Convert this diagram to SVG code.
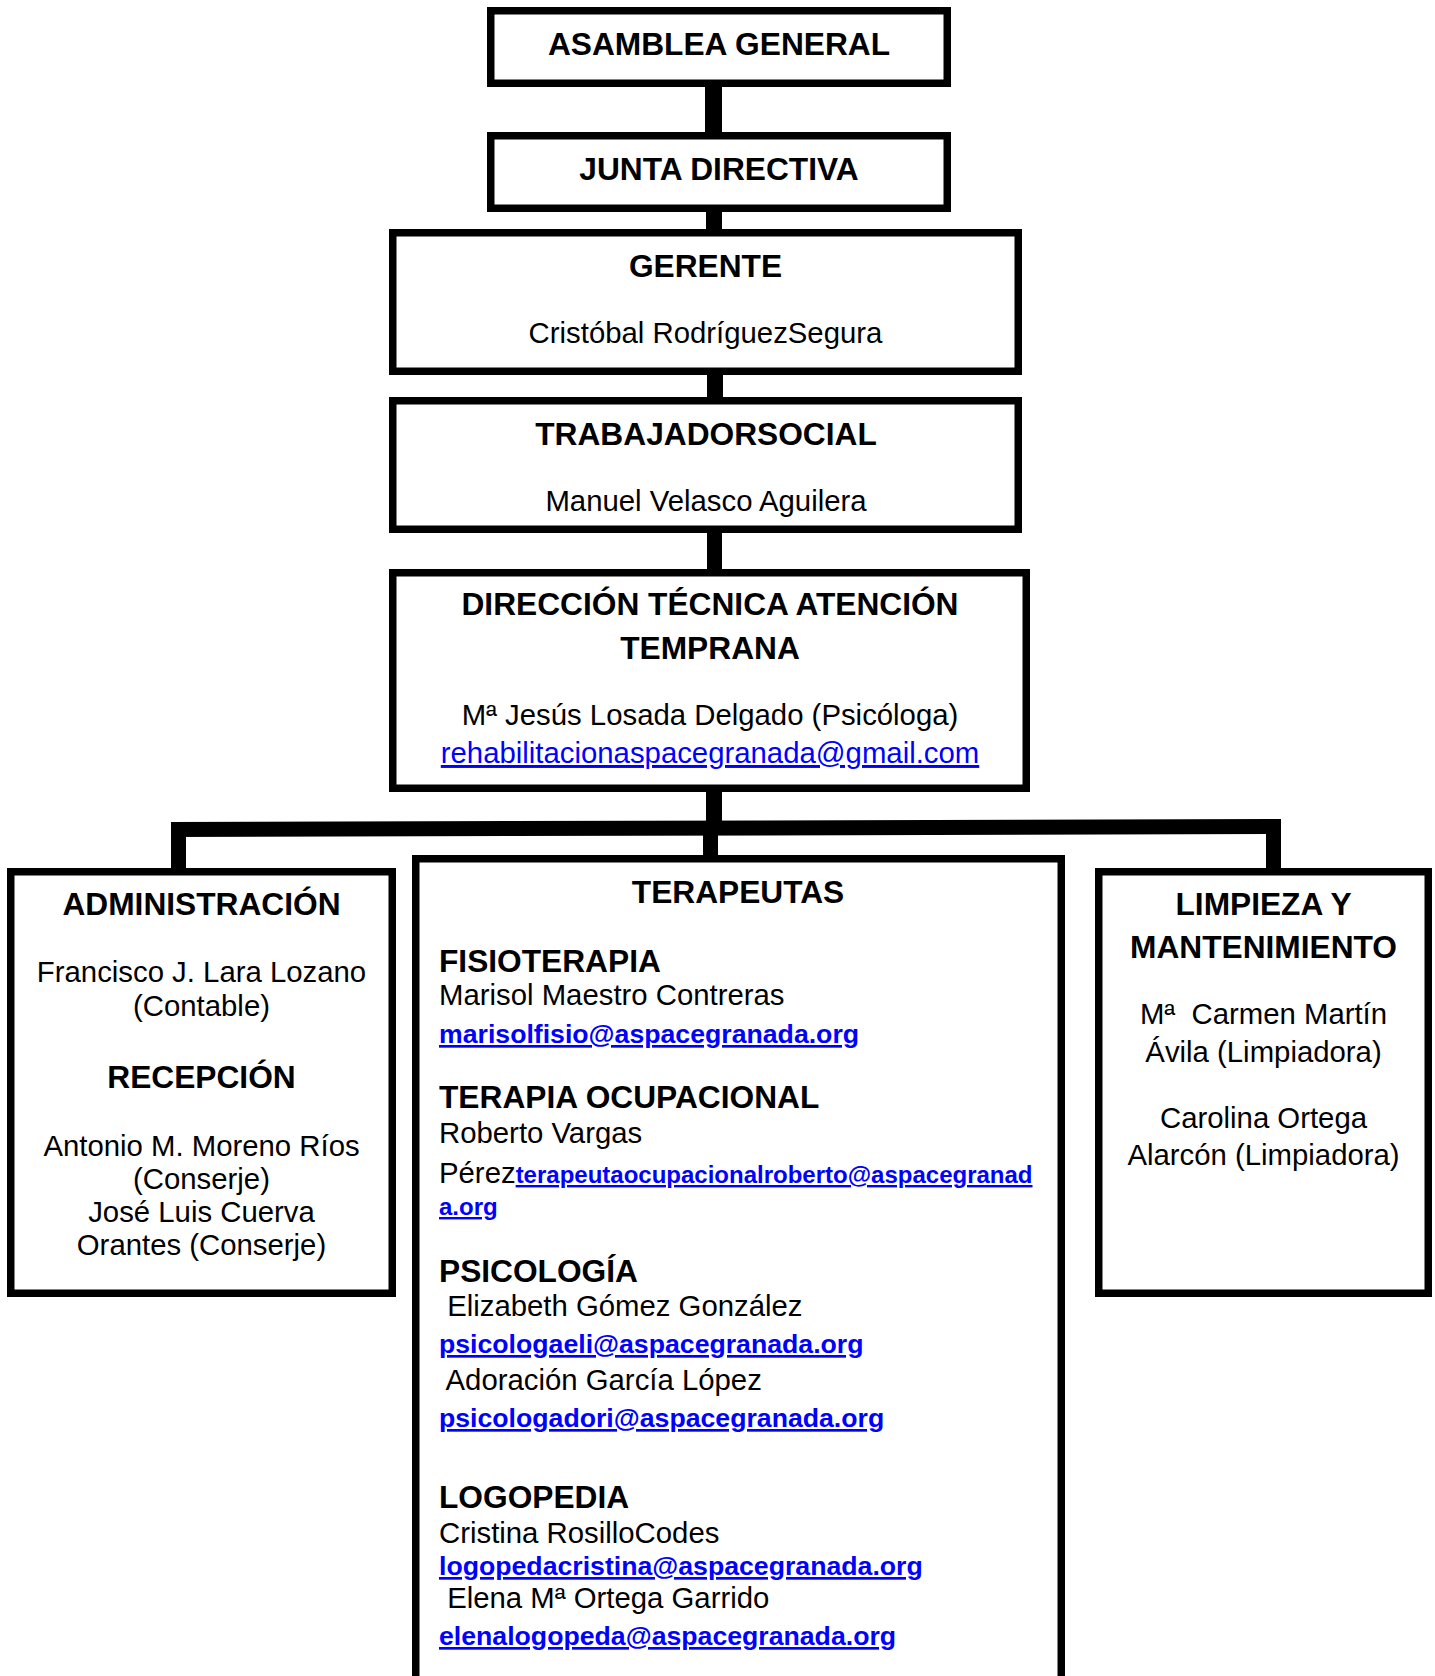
<svg xmlns="http://www.w3.org/2000/svg" width="1435" height="1676" viewBox="0 0 1435 1676">
<style>
.box{fill:#fff;stroke:#000;stroke-width:7.5}
.con{fill:#000}
text{font-family:"Liberation Sans",Arial,sans-serif;fill:#000}
.h{font-size:31.7px;font-weight:bold}
.r{font-size:29.33px}
.c{text-anchor:middle}
.lnk{fill:#0000ff;text-decoration:underline}
.em{font-size:26.67px;font-weight:bold}
.em2{font-size:24px;font-weight:bold}
.pre{white-space:pre}
</style>
<rect width="1435" height="1676" fill="#fff"/>
<g id="connectors">
<rect class="con" x="705" y="85" width="17" height="50"/>
<rect class="con" x="706" y="210" width="16" height="21"/>
<rect class="con" x="707" y="373" width="16" height="26"/>
<rect class="con" x="707" y="531" width="15" height="40"/>
<rect class="con" x="706" y="790" width="16" height="32"/>
<polygon class="con" points="171,822 1281,819 1281,834 171,837"/>
<rect class="con" x="703" y="834" width="15" height="23"/>
<rect class="con" x="171" y="822" width="15" height="48"/>
<rect class="con" x="1266" y="819" width="15" height="51"/>
</g>
<g id="asamblea">
<rect class="box" x="490.75" y="10.75" width="456.5" height="72.5"/>
<text class="h c" x="719" y="55">ASAMBLEA GENERAL</text>
</g>
<g id="junta">
<rect class="box" x="490.75" y="135.75" width="456.5" height="72.5"/>
<text class="h c" x="719" y="180">JUNTA DIRECTIVA</text>
</g>
<g id="gerente">
<rect class="box" x="392.75" y="232.75" width="625.5" height="138.5"/>
<text class="h c" x="705.5" y="277">GERENTE</text>
<text class="r c" x="705.5" y="343">Cristóbal RodríguezSegura</text>
</g>
<g id="trabajador">
<rect class="box" x="392.75" y="400.75" width="625.5" height="128.5"/>
<text class="h c" x="706" y="445">TRABAJADORSOCIAL</text>
<text class="r c" x="706" y="511">Manuel Velasco Aguilera</text>
</g>
<g id="direccion">
<rect class="box" x="392.75" y="572.75" width="633.5" height="215.5"/>
<text class="h c" x="710" y="615">DIRECCIÓN TÉCNICA ATENCIÓN</text>
<text class="h c" x="710" y="659">TEMPRANA</text>
<text class="r c" x="710" y="725">Mª Jesús Losada Delgado (Psicóloga)</text>
<text class="r c lnk" x="710" y="763">rehabilitacionaspacegranada@gmail.com</text>
</g>
<g id="administracion">
<rect class="box" x="10.75" y="871.75" width="381.5" height="421.5"/>
<text class="h c" x="201.5" y="915">ADMINISTRACIÓN</text>
<text class="r c" x="201.5" y="982">Francisco J. Lara Lozano</text>
<text class="r c" x="201.5" y="1015.5">(Contable)</text>
<text class="h c" x="201.5" y="1088">RECEPCIÓN</text>
<text class="r c" x="201.5" y="1156">Antonio M. Moreno Ríos</text>
<text class="r c" x="201.5" y="1189">(Conserje)</text>
<text class="r c" x="201.5" y="1222">José Luis Cuerva</text>
<text class="r c" x="201.5" y="1255">Orantes (Conserje)</text>
</g>
<g id="terapeutas">
<rect class="box" x="415.75" y="858.75" width="645.5" height="900"/>
<text class="h c" x="738" y="903">TERAPEUTAS</text>
<text class="h" x="439" y="972">FISIOTERAPIA</text>
<text class="r" x="439" y="1005">Marisol Maestro Contreras</text>
<text class="em lnk" x="439" y="1043">marisolfisio@aspacegranada.org</text>
<text class="h" x="439" y="1108">TERAPIA OCUPACIONAL</text>
<text class="r" x="439" y="1143">Roberto Vargas</text>
<text class="r" x="439" y="1183">Pérez<tspan class="em2 lnk">terapeutaocupacionalroberto@aspacegranad</tspan></text>
<text class="em2 lnk" x="439" y="1215">a.org</text>
<text class="h" x="439" y="1282">PSICOLOGÍA</text>
<text class="r pre" xml:space="preserve" x="439" y="1316"> Elizabeth Gómez González</text>
<text class="em lnk" x="439" y="1353">psicologaeli@aspacegranada.org</text>
<text class="r pre" xml:space="preserve" x="439" y="1390"> Adoración García López</text>
<text class="em lnk" x="439" y="1427">psicologadori@aspacegranada.org</text>
<text class="h" x="439" y="1508">LOGOPEDIA</text>
<text class="r" x="439" y="1543">Cristina RosilloCodes</text>
<text class="em lnk" x="439" y="1575">logopedacristina@aspacegranada.org</text>
<text class="r pre" xml:space="preserve" x="439" y="1608"> Elena Mª Ortega Garrido</text>
<text class="em lnk" x="439" y="1645">elenalogopeda@aspacegranada.org</text>
</g>
<g id="limpieza">
<rect class="box" x="1098.75" y="871.75" width="329.5" height="421.5"/>
<text class="h c" x="1263.5" y="915">LIMPIEZA Y</text>
<text class="h c" x="1263.5" y="958">MANTENIMIENTO</text>
<text class="r c pre" xml:space="preserve" x="1263.5" y="1024">Mª  Carmen Martín</text>
<text class="r c" x="1263.5" y="1062">Ávila (Limpiadora)</text>
<text class="r c" x="1263.5" y="1128">Carolina Ortega</text>
<text class="r c" x="1263.5" y="1165">Alarcón (Limpiadora)</text>
</g>
</svg>
